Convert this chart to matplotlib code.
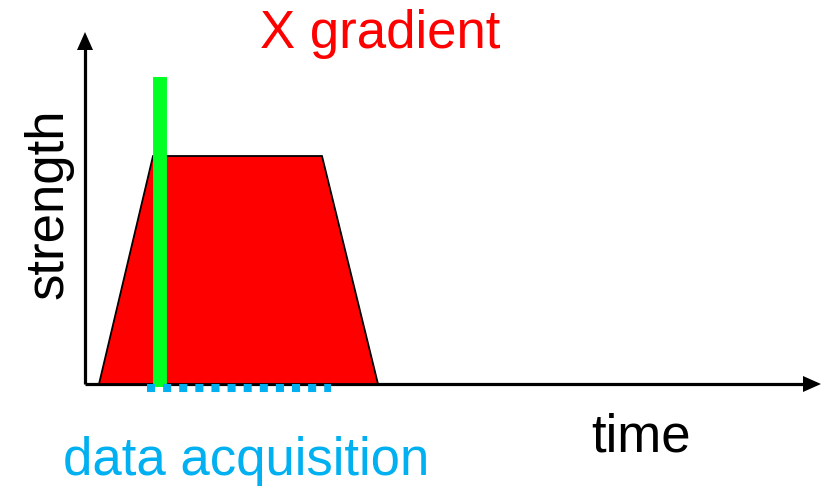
import matplotlib
matplotlib.use("Agg")
import matplotlib.pyplot as plt
from matplotlib.patches import Polygon

plt.rcParams['font.family'] = ['Liberation Sans', 'DejaVu Sans']

# gradient waveform (time, strength), origin at the axes corner
grad_time = [14, 68, 237, 293]
grad_strength = [0, 228, 228, 0]

# readout (green bar) and acquisition window (blue dots)
readout_time = 75
readout_range = (-3, 307)
acq_start, acq_end = 62, 246
acq_level = -4

x_max, y_max = 736, 352

fig = plt.figure(figsize=(8.21, 4.89), dpi=100)
ax = fig.add_axes([0, 0, 1, 1])
ax.set_xlim(-85, 736)
ax.set_ylim(-104, 385)
ax.axis('off')

# axes with arrow heads
ax.plot([0, x_max - 16], [0, 0], color='black', lw=2.3, solid_capstyle='butt', zorder=2)
ax.plot([0, 0], [0, y_max - 16], color='black', lw=2.3, solid_capstyle='butt', zorder=2)
ax.add_patch(Polygon([[x_max - 18, 8], [x_max, 0], [x_max - 18, -8]], closed=True,
                     facecolor='black', edgecolor='none', zorder=2))
ax.add_patch(Polygon([[-8, y_max - 18], [0, y_max], [8, y_max - 18]], closed=True,
                     facecolor='black', edgecolor='none', zorder=2))

# trapezoid
ax.add_patch(Polygon(list(zip(grad_time, grad_strength)), closed=True,
                     facecolor='#ff0000', edgecolor='black', lw=1.3, zorder=3))

# green readout bar
ax.plot([readout_time, readout_time], readout_range, color='#00ff22', lw=10,
        solid_capstyle='butt', zorder=4)

# blue acquisition dots
ax.plot([acq_start, acq_end], [acq_level, acq_level], color='#00b0f0', lw=5.8,
        linestyle=(0, (1, 1)), dash_capstyle='butt', zorder=4)

ax.text(175, 337, 'X gradient', color='#ff0000', fontsize=38, ha='left', va='baseline')
ax.text(-23, 181, 'strength', color='black', fontsize=38, rotation=90,
        rotation_mode='anchor', ha='center', va='baseline')
ax.text(506, -67, 'time', color='black', fontsize=38, ha='left', va='baseline')
ax.text(-22, -90, 'data acquisition', color='#00b0f0', fontsize=38, ha='left', va='baseline')

fig.savefig('out.png', dpi=100)
